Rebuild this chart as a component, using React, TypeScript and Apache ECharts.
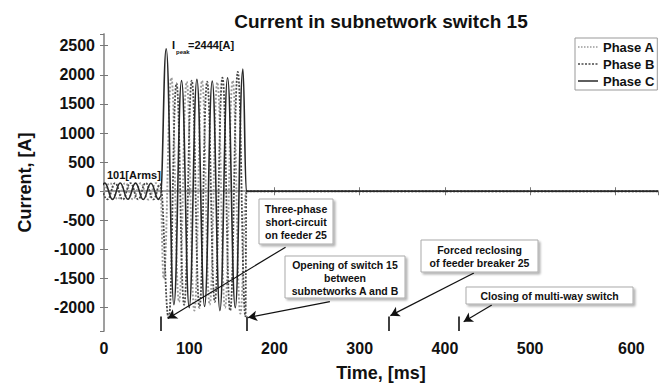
import React, { useEffect, useRef } from 'react';
import * as echarts from 'echarts';

const FONT = '"Liberation Sans", Arial, sans-serif';

const titleText = 'Current in subnetwork switch 15';
const xAxisName = 'Time, [ms]';
const yAxisName = 'Current, [A]';
const phaseNames = ['Phase A', 'Phase B', 'Phase C'];

// [time ms, current A]
const phaseA: [number, number][] = [
  [-2, -140], [7, 140], [16, -138], [25, 142], [34, -140], [43, 138], [52, -142], [61, 140], [66, 60],
  [70, -1500], [79, 1950], [88, -1900], [97, 1880], [106, -2050], [115, 1900], [124, -1950],
  [133, 1870], [142, -2000], [151, 1900], [160, -2100], [167, 0], [168, 0], [650, 0],
];
const phaseB: [number, number][] = [
  [-5, 140], [4, -140], [13, 138], [22, -142], [31, 140], [40, -138], [49, 142], [58, -140], [66, 120],
  [76, -2190], [85, 1850], [94, -1950], [103, 1900], [112, -2000], [121, 1880], [130, -1900],
  [139, 1950], [148, -2050], [157, 2050], [166, -2150], [167, 0], [168, 0], [650, 0],
];
const phaseC: [number, number][] = [
  [-8, -140], [1, 140], [10, -140], [19, 142], [28, -138], [37, 140], [46, -142], [55, 138], [64, -140], [66, -100],
  [73, 2444], [82, -1950], [91, 1900], [100, -2000], [109, 1920], [118, -1980], [127, 1890],
  [136, -2050], [145, 1950], [154, -2000], [163, 2100], [167, 0], [168, 0], [650, 0],
];

const peakValue = 2444;
const rmsValue = 101;

// events on the time axis
const eventTimes = [66, 167, 334, 416];
const eventLabels = [
  'Three-phase\nshort-circuit\non feeder 25',
  'Opening of switch 15\nbetween\nsubnetworks A and B',
  'Forced reclosing\nof feeder breaker 25',
  'Closing of multi-way switch',
];
// arrow tails (near boxes) and heads (near event markers), data coords
const arrowTails: [number, number][] = [[213, -960], [265, -1897], [434, -1403], [455, -1952]];
const arrowHeads: [number, number][] = [[75, -2187], [169, -2170], [336, -2136], [422, -2240]];

// annotation boxes in pixels: x, y, w, h
const boxes = [
  [259, 199, 74, 45],
  [285, 256, 120, 42],
  [421, 240, 117, 32],
  [466, 287, 167, 17],
];

const phaseColors = ['#9a9a9a', '#484848', '#282828'];
const phaseDash: any[] = ['dotted', [2, 1.5], 'solid'];
const phaseWidths = [1.9, 1.8, 1.6];

const Y_MIN = -2400;
const Y_MAX = 2700;
const X_MIN = 0;
const X_MAX = 650;

export default function App() {
  const ref = useRef<HTMLDivElement>(null);
  useEffect(() => {
    if (!ref.current) return;
    const chart = echarts.init(ref.current, null, { renderer: 'svg' });

    const axisLine = { show: true, lineStyle: { color: '#999', width: 1.5 } };
    const axisTick = { show: true, inside: true, length: 4, lineStyle: { color: '#777', width: 1 } };

    const graphics: any[] = [];
    boxes.forEach((b, i) => {
      graphics.push({
        type: 'rect',
        z: 100,
        shape: { x: b[0], y: b[1], width: b[2], height: b[3] },
        style: {
          fill: '#fff', stroke: '#aaa', lineWidth: 1,
          shadowColor: 'rgba(0,0,0,0.3)', shadowBlur: 2, shadowOffsetX: 2, shadowOffsetY: 2,
        },
      });
      graphics.push({
        type: 'text',
        z: 101,
        x: b[0] + b[2] / 2,
        y: b[1] + b[3] / 2 + 0.5,
        style: {
          text: eventLabels[i],
          font: `bold 10.5px ${FONT}`,
          fill: '#111',
          align: 'center',
          verticalAlign: 'middle',
          lineHeight: 13,
        },
      });
    });
    graphics.push(
      { type: 'text', z: 101, x: 107, y: 175, style: { text: `${rmsValue}[Arms]`, font: `bold 11px ${FONT}`, fill: '#111', align: 'left', verticalAlign: 'middle' } },
      { type: 'text', z: 101, x: 172, y: 45, style: { text: 'I', font: `bold 11px ${FONT}`, fill: '#111', align: 'left', verticalAlign: 'middle' } },
      { type: 'text', z: 101, x: 176, y: 52, style: { text: 'peak', font: `bold 6px ${FONT}`, fill: '#111', align: 'left', verticalAlign: 'middle' } },
      { type: 'text', z: 101, x: 188, y: 45, style: { text: `=${peakValue}[A]`, font: `bold 11px ${FONT}`, fill: '#111', align: 'left', verticalAlign: 'middle' } },
    );
    // legend line samples
    phaseNames.forEach((_, i) => {
      const y = 47 + i * 17;
      graphics.push({
        type: 'line',
        z: 110,
        shape: { x1: 578, y1: y, x2: 598, y2: y },
        style: { stroke: phaseColors[i], lineWidth: 1.5, lineDash: phaseDash[i] === 'solid' ? null : phaseDash[i] === 'dotted' ? [1.5, 1.5] : phaseDash[i] },
      });
    });

    const lineBase = {
      type: 'line' as const,
      showSymbol: false,
      symbol: 'none',
      smooth: 0.45,
      smoothMonotone: 'x' as const,
      clip: true,
      silent: true,
      emphasis: { disabled: true },
    };

    chart.setOption({
      animation: false,
      backgroundColor: '#fff',
      title: {
        text: titleText,
        left: 381,
        textAlign: 'center',
        top: 12,
        padding: 0,
        textStyle: { fontFamily: FONT, fontSize: 19, fontWeight: 'bold', color: '#111' },
      },
      grid: { left: 104, right: 7, top: 34, bottom: 55, containLabel: false },
      legend: {
        data: phaseNames,
        orient: 'vertical',
        left: 575,
        top: 38,
        padding: [2, 3, 2, 2],
        itemWidth: 21,
        itemHeight: 14,
        itemGap: 3,
        icon: 'rect',
        itemStyle: { color: 'rgba(0,0,0,0)', borderWidth: 0 },
        borderColor: '#999',
        borderWidth: 1,
        backgroundColor: '#fff',
        textStyle: { fontFamily: FONT, fontSize: 13, fontWeight: 'bold', color: '#111' },
      },
      xAxis: [
        {
          type: 'value', min: X_MIN, max: X_MAX, interval: 100, position: 'bottom',
          axisLine, axisTick, splitLine: { show: false },
          axisLabel: {
            fontFamily: FONT, fontSize: 16, fontWeight: 'bold', color: '#111', margin: 9,
            showMaxLabel: false,
            formatter: (v: number) => (v === 600 ? '{s|600}' : String(v)),
            rich: { s: { fontFamily: FONT, fontSize: 16, fontWeight: 'bold', color: '#111', padding: [0, 0, 0, 32] } },
          },
          name: xAxisName, nameLocation: 'middle', nameGap: 33,
          nameTextStyle: { fontFamily: FONT, fontSize: 18, fontWeight: 'bold', color: '#111' },
        },
        {
          type: 'value', min: X_MIN, max: X_MAX, interval: 100, position: 'top',
          axisLine, axisTick, splitLine: { show: false }, axisLabel: { show: false },
        },
      ],
      yAxis: [
        {
          type: 'value', min: Y_MIN, max: Y_MAX, splitNumber: 10, position: 'left',
          axisLine, axisTick, splitLine: { show: false },
          axisLabel: {
            fontFamily: FONT, fontSize: 16, fontWeight: 'bold', color: '#111', margin: 9,
            showMinLabel: false, showMaxLabel: false,
            formatter: (v: number) => String(v),
          },
          name: yAxisName, nameLocation: 'middle', nameGap: 70,
          nameTextStyle: { fontFamily: FONT, fontSize: 18, fontWeight: 'bold', color: '#111' },
        },
        {
          type: 'value', min: Y_MIN, max: Y_MAX, splitNumber: 10, position: 'right',
          axisLine, axisTick, splitLine: { show: false }, axisLabel: { show: false },
        },
      ],
      series: [
        {
          ...lineBase,
          name: phaseNames[0],
          data: phaseA,
          itemStyle: { color: phaseColors[0] },
          lineStyle: { color: phaseColors[0], width: phaseWidths[0], type: phaseDash[0] },
          markLine: {
            silent: true,
            symbol: ['none', 'arrow'],
            symbolSize: [8, 9],
            label: { show: false },
            lineStyle: { color: '#111', width: 1.2, type: 'solid' },
            emphasis: { disabled: true },
            data: arrowTails.map((t, i) => [{ coord: t }, { coord: arrowHeads[i] }]),
          },
        },
        {
          ...lineBase,
          name: phaseNames[1],
          data: phaseB,
          itemStyle: { color: phaseColors[1] },
          lineStyle: { color: phaseColors[1], width: phaseWidths[1], type: phaseDash[1] },
          markLine: {
            silent: true,
            symbol: ['none', 'none'],
            label: { show: false },
            lineStyle: { color: '#111', width: 1.6, type: 'solid' },
            emphasis: { disabled: true },
            data: eventTimes.map((t) => [{ coord: [t, Y_MIN] }, { coord: [t, -2150] }]),
          },
        },
        {
          ...lineBase,
          name: phaseNames[2],
          data: phaseC,
          itemStyle: { color: phaseColors[2] },
          lineStyle: { color: phaseColors[2], width: phaseWidths[2], type: phaseDash[2] },
        },
      ],
      graphic: graphics,
    });

    return () => chart.dispose();
  }, []);

  return (
    <div
      ref={ref}
      style={{ position: 'fixed', left: 0, top: 0, width: 665, height: 387, background: '#fff' }}
    />
  );
}
